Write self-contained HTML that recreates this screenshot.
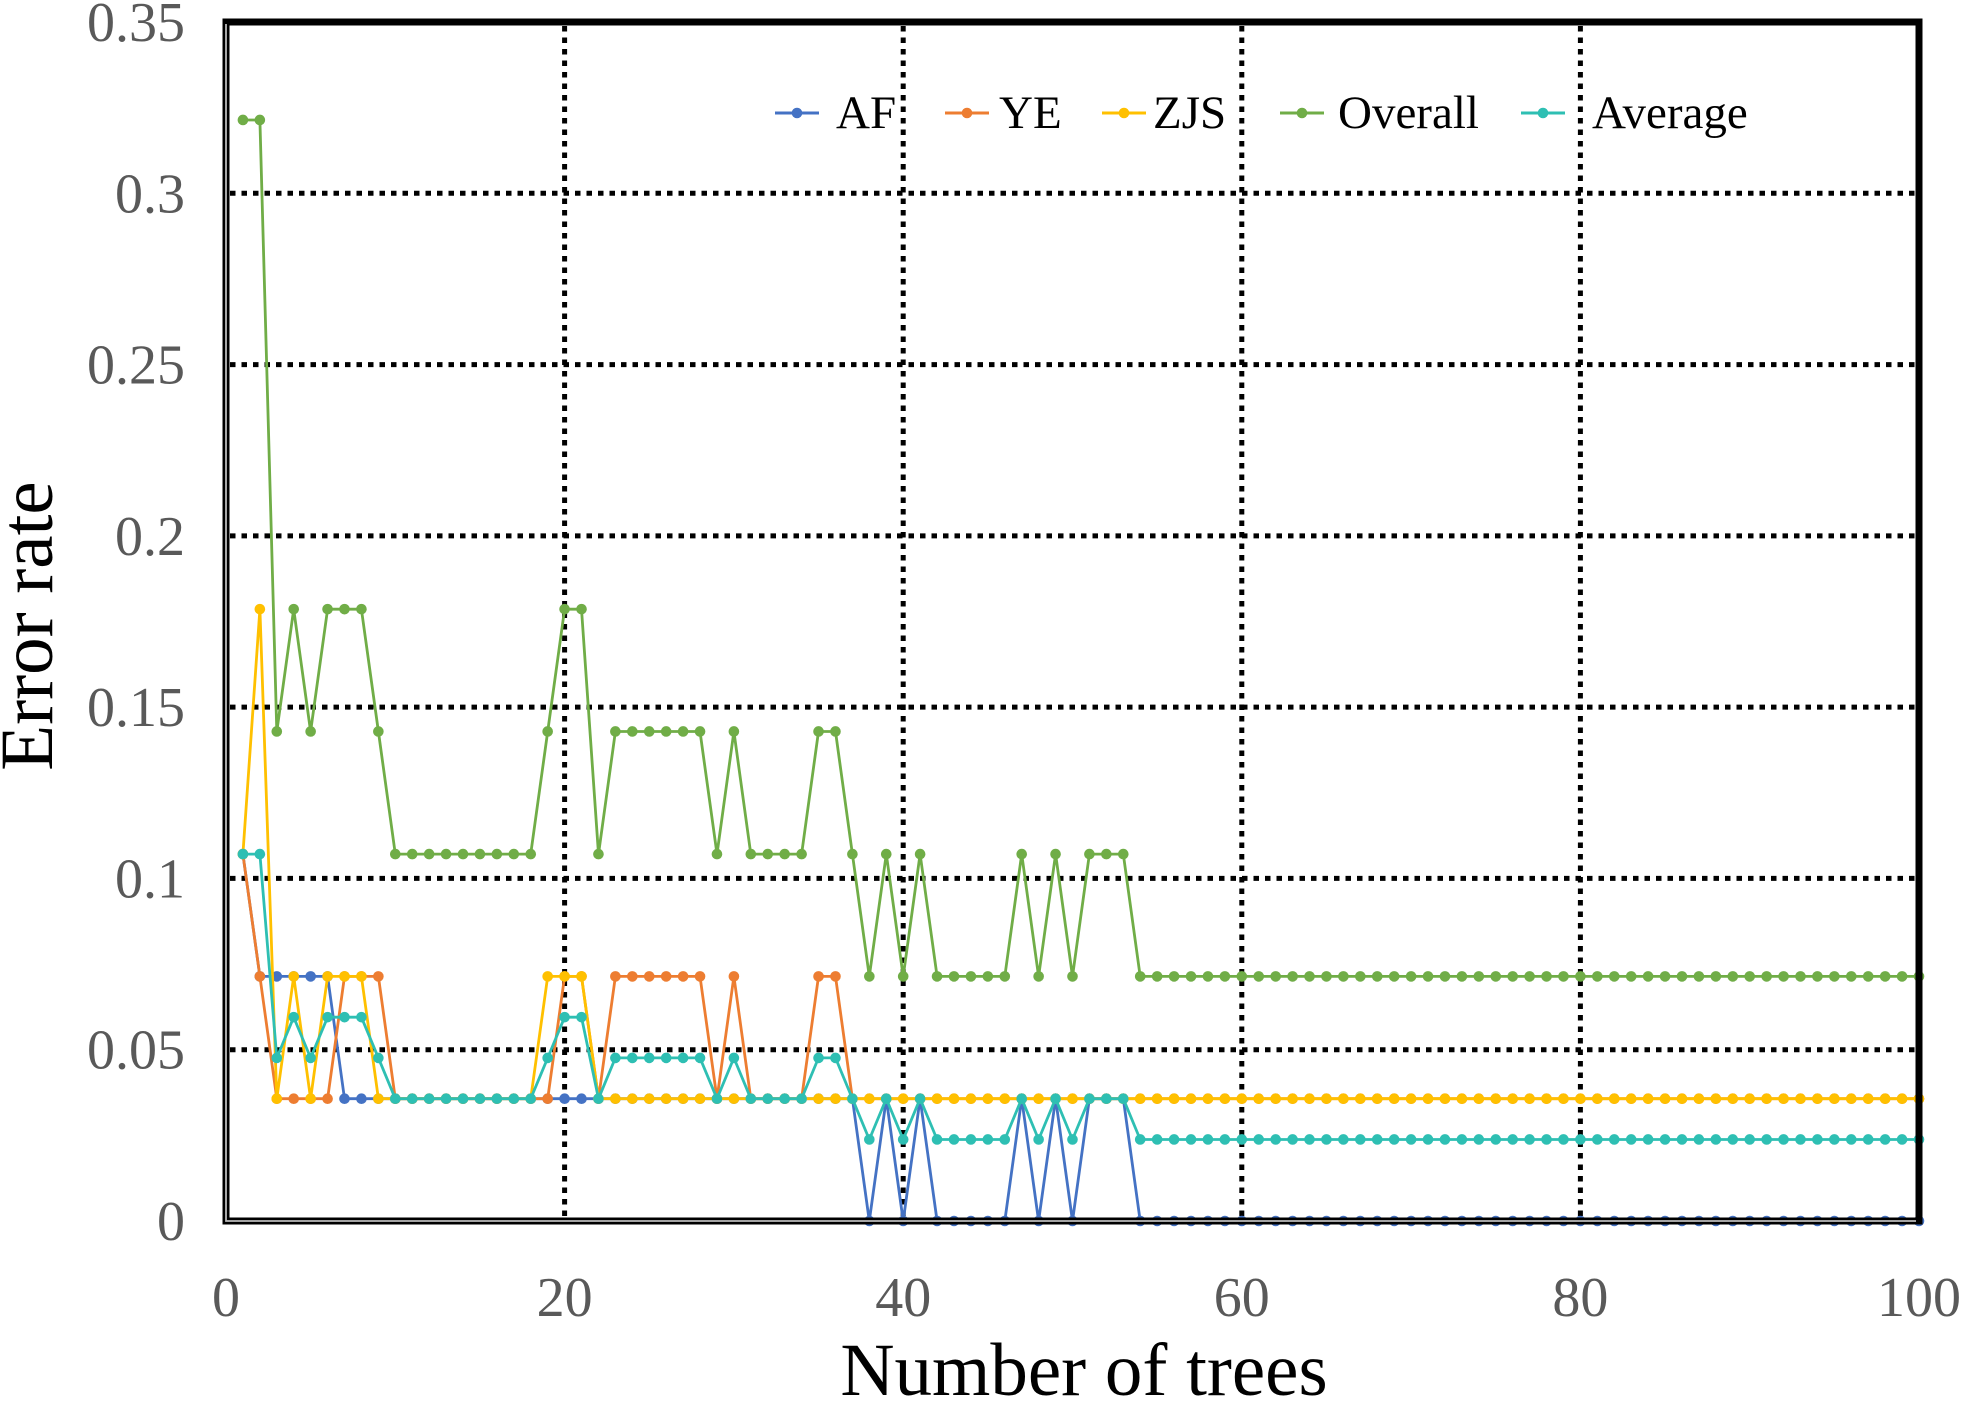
<!DOCTYPE html>
<html><head><meta charset="utf-8"><style>
html,body{margin:0;padding:0;background:#fff;}
svg text{font-family:"Liberation Serif",serif;}
</style></head><body>
<svg id="chart" width="1963" height="1400" viewBox="0 0 1963 1400" xmlns="http://www.w3.org/2000/svg">
<g id="grid"></g>
<g id="series"></g>
<g id="frame"></g>
<g id="ticks"></g>
<g id="legend"></g>
<text x="0" y="0" transform="translate(52,626) rotate(-90)" text-anchor="middle" font-size="75" fill="#000">Error rate</text>
<text x="1084" y="1395" text-anchor="middle" font-size="75" fill="#000">Number of trees</text>
</svg>
<script>
const xTicks=[0,20,40,60,80,100];
const yTicks=[0,0.05,0.1,0.15,0.2,0.25,0.3,0.35];
const yTickLabels=["0","0.05","0.1","0.15","0.2","0.25","0.3","0.35"];
const seriesNames=["AF","YE","ZJS","Overall","Average"];
const seriesColors=["#4472C4","#ED7D31","#FFC000","#70AD47","#2EBFB3"];
function rep(v,n){return Array(n).fill(v);}
const A=0.1071,B=0.0714,C=0.0357,D=0.1786,E=0.1429,F=0.3214;
const afValues=[A,B,B,B,B,B,C,C,C, ...rep(C,9), C,C,C,C, ...rep(C,6), C,C, ...rep(C,4), C,C,C, 0,C,0,C, 0,0,0,0,0, C,0,C,0, C,C,C, ...rep(0,47)];
const yeValues=[A,B,C,C,C,C,B,B,B, ...rep(C,9), C,B,B,C, ...rep(B,6), C,B, ...rep(C,4), B,B,C, C,C,C,C, C,C,C,C,C, C,C,C,C, C,C,C, ...rep(C,47)];
const zjsValues=[A,D,C,B,C,B,B,B,C, ...rep(C,9), B,B,B,C, ...rep(C,6), C,C, ...rep(C,4), C,C,C, C,C,C,C, C,C,C,C,C, C,C,C,C, C,C,C, ...rep(C,47)];
const overallValues=[F,F,E,D,E,D,D,D,E, ...rep(A,9), E,D,D,A, ...rep(E,6), A,E, ...rep(A,4), E,E,A, B,A,B,A, B,B,B,B,B, A,B,A,B, A,A,A, ...rep(B,47)];
const G=0.0476,H=0.0595,I=0.0238;
const averageValues=[A,A,G,H,G,H,H,H,G, ...rep(C,9), G,H,H,C, ...rep(G,6), C,G, ...rep(C,4), G,G,C, I,C,I,C, I,I,I,I,I, C,I,C,I, C,C,C, ...rep(I,47)];
const allSeries=[afValues,yeValues,zjsValues,overallValues,averageValues];

const NS="http://www.w3.org/2000/svg";
const L=226,R=1919,T=22,Bm=1221;
function xs(v){return L+(v-0)/(100-0)*(R-L);}
function ys(v){return Bm-(v/0.35)*(Bm-T);}
function mk(tag,attrs,parent){const e=document.createElementNS(NS,tag);for(const k in attrs)e.setAttribute(k,attrs[k]);parent.appendChild(e);return e;}

const grid=document.getElementById('grid');
yTicks.forEach(t=>{ if(t>0&&t<0.35){const l=mk('line',{x1:L+4,x2:R,y1:ys(t),y2:ys(t),stroke:'#000','stroke-width':5,'stroke-dasharray':'5.5 6'},grid);

}});
xTicks.forEach(t=>{ if(t>0&&t<100){const l=mk('line',{x1:xs(t),x2:xs(t),y1:T+4,y2:Bm,stroke:'#000','stroke-width':5,'stroke-dasharray':'5.5 6'},grid);

}});

const sg=document.getElementById('series');
allSeries.forEach((vals,si)=>{
  const g=mk('g',{},sg);
  
  
  const pts=vals.map((v,i)=>xs(i+1).toFixed(1)+','+ys(v).toFixed(1)).join(' ');
  const pl=mk('polyline',{points:pts,fill:'none',stroke:seriesColors[si],'stroke-width':2.8,'stroke-linejoin':'round'},g);
  
  
  vals.forEach((v,i)=>{const c=mk('circle',{cx:xs(i+1),cy:ys(v),r:5.3,fill:seriesColors[si]},g);
  
  });
});

const fr=document.getElementById('frame');
const r1=mk('rect',{x:L,y:T,width:R-L,height:Bm-T,fill:'none',stroke:'#000','stroke-width':7},fr);


const gl=mk('polyline',{points:`${L},${T+2} ${L},${Bm} ${R-3},${Bm}`,fill:'none',stroke:'#bbb','stroke-width':1.8},fr);



const tk=document.getElementById('ticks');
yTicks.forEach((t,i)=>{const e=mk('text',{x:185,y:ys(t)+19,'text-anchor':'end','font-size':56,fill:'#595959'},tk);e.textContent=yTickLabels[i];

});
xTicks.forEach(t=>{const e=mk('text',{x:xs(t),y:1316,'text-anchor':'middle','font-size':56,fill:'#595959'},tk);e.textContent=String(t);

});

const lg=document.getElementById('legend');
const legX=[[775,836],[945,999],[1102,1153],[1280,1338],[1521,1592]];
seriesNames.forEach((n,i)=>{
  const g=mk('g',{},lg);
  
  
  mk('line',{x1:legX[i][0],x2:legX[i][0]+44,y1:113,y2:113,stroke:seriesColors[i],'stroke-width':3},g);
  mk('circle',{cx:legX[i][0]+22,cy:113,r:5.3,fill:seriesColors[i]},g);
  const t=mk('text',{x:legX[i][1],y:128,'font-size':47,fill:'#000'},g);t.textContent=n;
});
</script>
</body></html>
